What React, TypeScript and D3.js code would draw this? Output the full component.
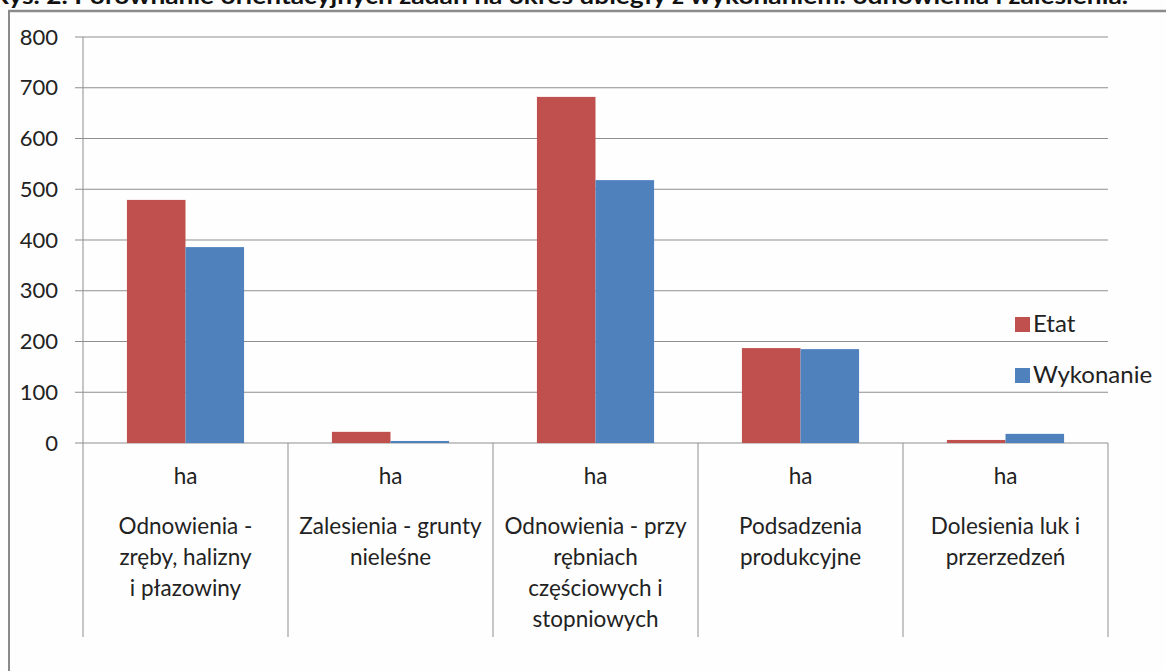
import React from "react";
import * as d3 from "d3";

const categories = [
  ["ha", "Odnowienia -", "zręby, halizny", "i płazowiny"],
  ["ha", "Zalesienia - grunty", "nieleśne"],
  ["ha", "Odnowienia - przy", "rębniach", "częściowych i", "stopniowych"],
  ["ha", "Podsadzenia", "produkcyjne"],
  ["ha", "Dolesienia luk i", "przerzedzeń"],
];
const seriesNames = ["Etat", "Wykonanie"];
const etat = [479, 22, 682, 187, 6];
const wykonanie = [386, 4, 518, 185, 18];
const yTicks = [0, 100, 200, 300, 400, 500, 600, 700, 800];
const colors = ["#C0504D", "#4F81BD"];
const title =
  "Rys. 2. Porównanie orientacyjnych zadań na okres ubiegły z wykonaniem: odnowienia i zalesienia.";

const W = 1166;
const H = 671;
const FONT = "Lato, 'Open Sans', sans-serif";

export default function App() {
  const left = 83;
  const right = 1108;
  const top = 37;
  const bottom = 443;
  const y = d3.scaleLinear().domain([0, 800]).range([bottom, top]);
  const x0 = d3
    .scaleBand<number>()
    .domain(d3.range(categories.length))
    .range([left, right])
    .paddingInner(0)
    .paddingOuter(0);
  const bw = x0.bandwidth();
  const barW = bw / 3.5;
  const x1 = d3
    .scaleBand<number>()
    .domain([0, 1])
    .range([bw / 2 - barW, bw / 2 + barW])
    .padding(0);
  const series = [etat, wykonanie];
  const grid = "#8f8f8f";

  return (
    <svg
      width={W}
      height={H}
      style={{ position: "absolute", left: 0, top: 0, background: "#fefefe" }}
    >
      <rect x={0} y={0} width={W} height={H} fill="#fefefe" />
      <text
        x={-8}
        y={4}
        fontFamily={FONT}
        fontWeight="bold"
        fontSize={22}
        fill="#111"
        textLength={1136}
        lengthAdjust="spacingAndGlyphs"
      >
        {title}
      </text>
      {/* frame */}
      <line x1={8} x2={W} y1={11} y2={11} stroke="#8a8a8a" strokeWidth={2.5} />
      <line x1={9} x2={9} y1={11} y2={H} stroke="#8a8a8a" strokeWidth={2} />

      {/* gridlines and y ticks */}
      {yTicks.map((t) => (
        <g key={t}>
          <line x1={left - 8} x2={right} y1={y(t)} y2={y(t)} stroke={grid} strokeWidth={1} />
          <text
            x={58}
            y={y(t)}
            dy="0.35em"
            textAnchor="end"
            fontFamily={FONT}
            fontSize={22}
            fill="#222"
          >
            {t}
          </text>
        </g>
      ))}
      <line x1={left} x2={left} y1={top} y2={bottom} stroke={grid} strokeWidth={1} />

      {/* bars */}
      {categories.map((_, i) => (
        <g key={i} transform={`translate(${x0(i)},0)`}>
          {series.map((s, j) => (
            <rect
              key={j}
              x={x1(j)}
              y={y(s[i])}
              width={x1.bandwidth()}
              height={bottom - y(s[i])}
              fill={colors[j]}
            />
          ))}
        </g>
      ))}

      {/* category dividers */}
      {d3.range(categories.length + 1).map((i) => {
        const xx = left + i * bw;
        return (
          <line key={i} x1={xx} x2={xx} y1={bottom} y2={637} stroke={grid} strokeWidth={1} />
        );
      })}

      {/* category labels */}
      {categories.map((lines, i) => (
        <g key={i}>
          {lines.map((ln, k) => (
            <text
              key={k}
              x={(x0(i) as number) + bw / 2}
              y={k === 0 ? 476 : 526 + (k - 1) * 31}
              dy="0.35em"
              textAnchor="middle"
              fontFamily={FONT}
              fontSize={22.5}
              fill="#222"
            >
              {ln}
            </text>
          ))}
        </g>
      ))}

      {/* legend */}
      {seriesNames.map((n, j) => (
        <g key={n} transform={`translate(1015,${317 + j * 51})`}>
          <rect x={0} y={0} width={15} height={15} fill={colors[j]} />
          <text x={18} y={7} dy="0.35em" fontFamily={FONT} fontSize={24} fill="#222">
            {n}
          </text>
        </g>
      ))}
    </svg>
  );
}
